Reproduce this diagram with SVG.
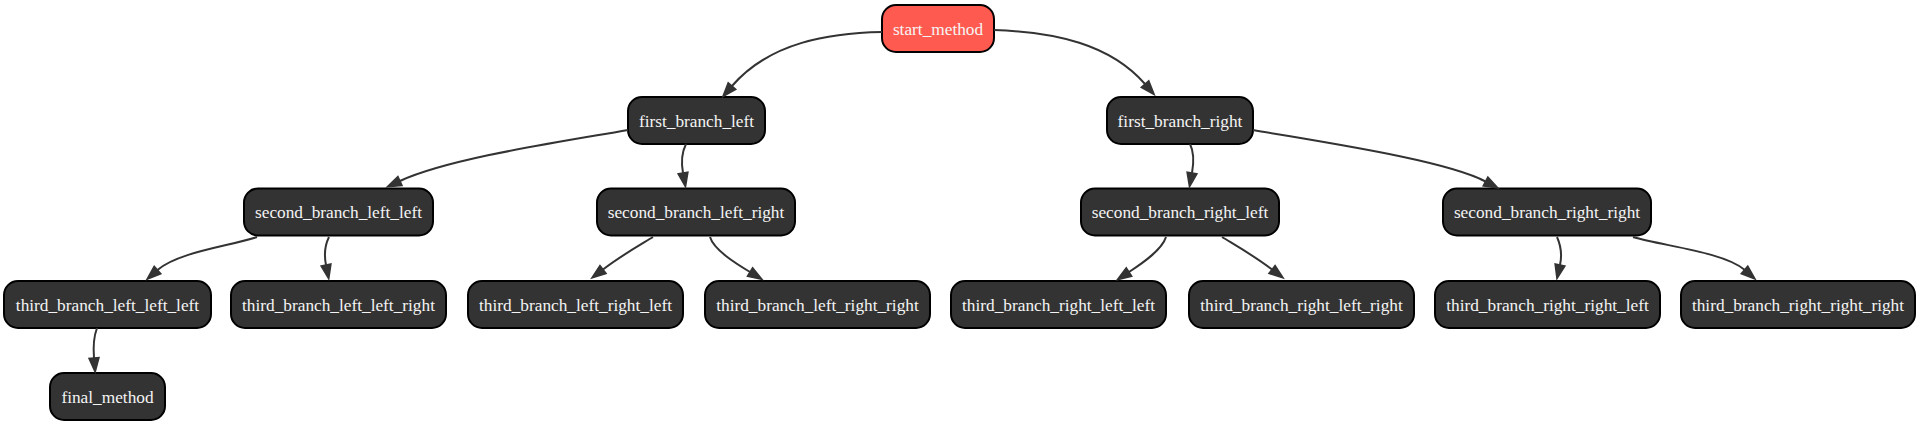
<svg xmlns="http://www.w3.org/2000/svg" width="1920" height="425" viewBox="0 0 1920 425">
<style>
.node rect{fill:#333333;stroke:#000000;stroke-width:2}
.node.start rect{fill:#ff5a4f}
.node text{font-family:"Liberation Serif","Times New Roman",serif;font-size:17.3px;fill:#f4f4f4;text-anchor:middle}
.edge{fill:none;stroke:#333333;stroke-width:2;marker-end:url(#arrow)}
</style>
<defs>
<marker id="arrow" markerUnits="userSpaceOnUse" markerWidth="16" markerHeight="12" refX="0" refY="5" orient="auto" overflow="visible">
<path d="M0,0 L14,5 L0,10 z" fill="#333333" stroke="#333333" stroke-width="1.5" stroke-linejoin="miter"/>
</marker>
</defs>
<rect width="1920" height="425" fill="#ffffff"/>
<g id="nodes">
<g id="start_method" class="node start"><rect x="882" y="5" width="112" height="47" rx="14" ry="14"/><text x="938" y="34.5">start_method</text></g>
<g id="first_branch_left" class="node"><rect x="628" y="97" width="137" height="47" rx="14" ry="14"/><text x="696.5" y="126.5">first_branch_left</text></g>
<g id="first_branch_right" class="node"><rect x="1107" y="97" width="146" height="47" rx="14" ry="14"/><text x="1180" y="126.5">first_branch_right</text></g>
<g id="second_branch_left_left" class="node"><rect x="244" y="188.5" width="189" height="47" rx="14" ry="14"/><text x="338.5" y="218">second_branch_left_left</text></g>
<g id="second_branch_left_right" class="node"><rect x="597" y="188.5" width="198" height="47" rx="14" ry="14"/><text x="696" y="218">second_branch_left_right</text></g>
<g id="second_branch_right_left" class="node"><rect x="1081" y="188.5" width="198" height="47" rx="14" ry="14"/><text x="1180" y="218">second_branch_right_left</text></g>
<g id="second_branch_right_right" class="node"><rect x="1443" y="188.5" width="208" height="47" rx="14" ry="14"/><text x="1547" y="218">second_branch_right_right</text></g>
<g id="third_branch_left_left_left" class="node"><rect x="4" y="281" width="207" height="47" rx="14" ry="14"/><text x="107.5" y="310.5">third_branch_left_left_left</text></g>
<g id="third_branch_left_left_right" class="node"><rect x="231" y="281" width="215" height="47" rx="14" ry="14"/><text x="338.5" y="310.5">third_branch_left_left_right</text></g>
<g id="third_branch_left_right_left" class="node"><rect x="468" y="281" width="215" height="47" rx="14" ry="14"/><text x="575.5" y="310.5">third_branch_left_right_left</text></g>
<g id="third_branch_left_right_right" class="node"><rect x="705" y="281" width="225" height="47" rx="14" ry="14"/><text x="817.5" y="310.5">third_branch_left_right_right</text></g>
<g id="third_branch_right_left_left" class="node"><rect x="951" y="281" width="215" height="47" rx="14" ry="14"/><text x="1058.5" y="310.5">third_branch_right_left_left</text></g>
<g id="third_branch_right_left_right" class="node"><rect x="1189" y="281" width="225" height="47" rx="14" ry="14"/><text x="1301.5" y="310.5">third_branch_right_left_right</text></g>
<g id="third_branch_right_right_left" class="node"><rect x="1435" y="281" width="225" height="47" rx="14" ry="14"/><text x="1547.5" y="310.5">third_branch_right_right_left</text></g>
<g id="third_branch_right_right_right" class="node"><rect x="1681" y="281" width="234" height="47" rx="14" ry="14"/><text x="1798" y="310.5">third_branch_right_right_right</text></g>
<g id="final_method" class="node"><rect x="50" y="373" width="115" height="47" rx="14" ry="14"/><text x="107.5" y="402.5">final_method</text></g>
</g>
<g id="connectors">
<path class="edge" d="M882,32 C830,33 770,42 732,86"/>
<path class="edge" d="M994,30 C1055,32 1110,44 1145,84"/>
<path class="edge" d="M628,130 C560,142 450,158 400,181"/>
<path class="edge" d="M686,144 C682,152 681,162 683,173"/>
<path class="edge" d="M1253,130 C1321,142 1445,160 1485.5,181.5"/>
<path class="edge" d="M1190,144 C1194,152 1194,162 1192,173"/>
<path class="edge" d="M257,237 C230,246 178,252 157.5,270"/>
<path class="edge" d="M329,237 C325,245 324,255 326,265"/>
<path class="edge" d="M653,237 C640,245 622,255 603,269.5"/>
<path class="edge" d="M710,237 C714,250 736,263.5 750,272"/>
<path class="edge" d="M1166,237 C1162,250 1142,263.5 1129,272"/>
<path class="edge" d="M1222,237 C1235,245 1253,255 1272,269.5"/>
<path class="edge" d="M1557,237 C1561,246 1562,256 1560,265"/>
<path class="edge" d="M1633,237 C1663,246 1724,252 1744.5,269.8"/>
<path class="edge" d="M97,328 C94,336 93,346 94,358"/>
</g>
</svg>
